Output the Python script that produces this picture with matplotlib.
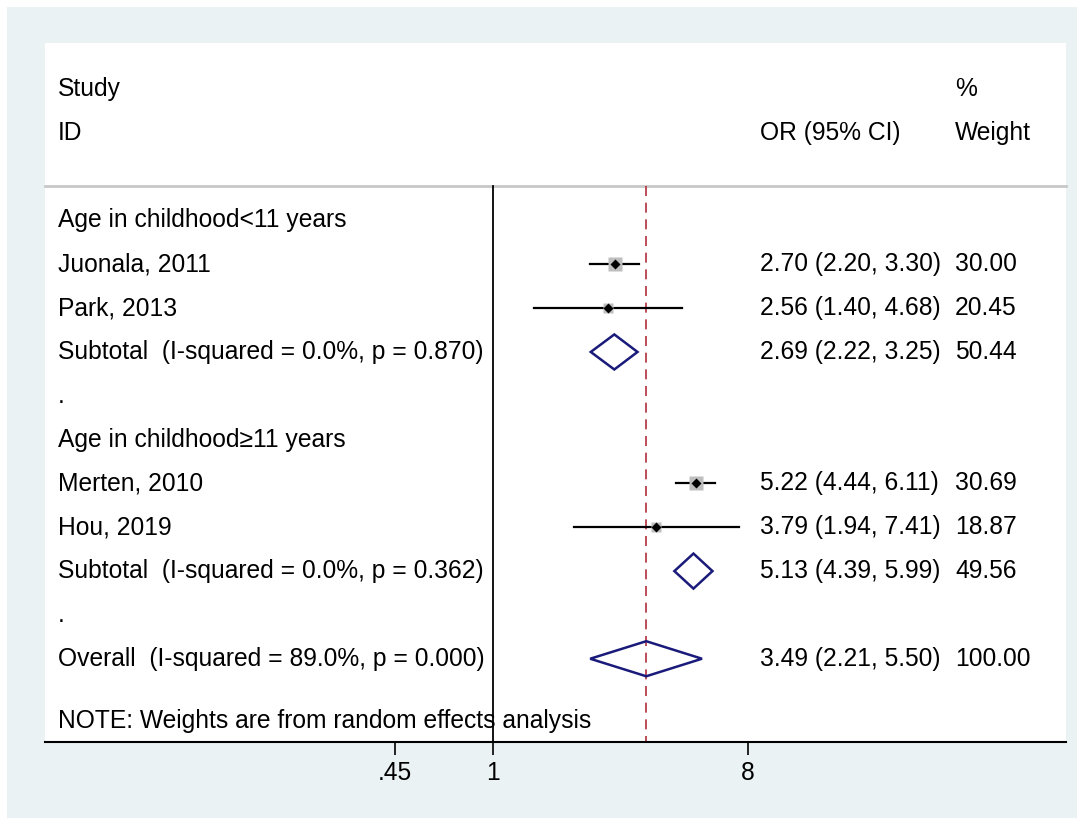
import numpy as np
import matplotlib
matplotlib.use('Agg')
import matplotlib.pyplot as plt
from matplotlib.patches import Rectangle, Polygon
import matplotlib.transforms as mtransforms

# ---------------------------------------------------------------
# data
# ---------------------------------------------------------------
labels = ['Age in childhood<11 years', 'Juonala, 2011', 'Park, 2013',
          'Subtotal  (I-squared = 0.0%, p = 0.870)', '.',
          'Age in childhood\u226511 years', 'Merten, 2010', 'Hou, 2019',
          'Subtotal  (I-squared = 0.0%, p = 0.362)', '.',
          'Overall  (I-squared = 89.0%, p = 0.000)']
# row kind: h = heading, s = study, d = pooled diamond, b = blank
kinds = ['h', 's', 's', 'd', 'b', 'h', 's', 's', 'd', 'b', 'd']
or_est = [None, 2.70, 2.56, 2.69, None, None, 5.22, 3.79, 5.13, None, 3.49]
ci_low = [None, 2.20, 1.40, 2.22, None, None, 4.44, 1.94, 4.39, None, 2.21]
ci_high = [None, 3.30, 4.68, 3.25, None, None, 6.11, 7.41, 5.99, None, 5.50]
weights = [None, 30.00, 20.45, 50.44, None, None, 30.69, 18.87, 49.56, None, 100.00]

tick_vals = [0.45, 1, 8]
tick_labels = ['.45', '1', '8']

overall = 3.49

# ---------------------------------------------------------------
# figure
# ---------------------------------------------------------------
plt.rcParams['font.family'] = ['Liberation Sans', 'DejaVu Sans']
FS = 17.7

fig = plt.figure(figsize=(10.84, 8.25), dpi=100)
fig.patch.set_facecolor('white')
# stata graph region
fig.patches.append(Rectangle((7 / 1084, 7 / 825), 1070 / 1084, 811 / 825,
                             transform=fig.transFigure, facecolor='#EAF2F3',
                             edgecolor='none', zorder=-5))

ax = fig.add_axes([45 / 1084, 83 / 825, 1021 / 1084, 699 / 825])
ax.set_zorder(1)
ax.set_facecolor('white')
ax.set_xscale('log')
x_left = np.exp((45 - 493) / 122.6)
x_right = np.exp((1066 - 493) / 122.6)
ax.set_xlim(x_left, x_right)
ax.set_ylim(14.9, -1.05)

for s in ['top', 'right', 'left']:
    ax.spines[s].set_visible(False)
ax.spines['bottom'].set_linewidth(1.5)
ax.set_yticks([])
ax.set_xticks(tick_vals)
ax.set_xticklabels(tick_labels, fontsize=FS)
ax.xaxis.set_minor_locator(matplotlib.ticker.NullLocator())
ax.tick_params(axis='x', length=9, width=1.2, pad=5)

tr = mtransforms.blended_transform_factory(ax.transAxes, ax.transData)
x_lab = (58 - 45) / 1021
x_or = (760 - 45) / 1021
x_wt = (955 - 45) / 1021

# header
ax.text(x_lab, 0, 'Study', transform=tr, fontsize=FS, va='center')
ax.text(x_lab, 1, 'ID', transform=tr, fontsize=FS, va='center')
ax.text(x_wt, 0, '%', transform=tr, fontsize=FS, va='center')
ax.text(x_or, 1, 'OR (95% CI)', transform=tr, fontsize=FS, va='center')
ax.text(x_wt, 1, 'Weight', transform=tr, fontsize=FS, va='center')
ax.plot([0, 1], [2.21, 2.21], transform=tr, color='#C8C8C8', lw=2, clip_on=False)

# reference lines
ax.plot([1, 1], [2.21, 14.9], color='black', lw=1.3, zorder=2)
ax.plot([overall, overall], [2.21, 14.9], color='#B0303C', lw=1.2,
        dashes=(6, 4), zorder=2)

for i, (lab, k) in enumerate(zip(labels, kinds)):
    y = i + 3
    ax.text(x_lab, y, lab, transform=tr, fontsize=FS, va='center')
    if k == 's':
        side = 2.4 * np.sqrt(weights[i]) * 0.72
        ax.plot([ci_low[i], ci_high[i]], [y, y], color='black', lw=1.6, zorder=3)
        ax.plot(or_est[i], y, marker='s', ms=side, color='#BEBEBE', mec='none', zorder=3)
        ax.plot(or_est[i], y, marker='D', ms=5.2, color='black', mec='none', zorder=4)
    if k == 'd':
        ax.add_patch(Polygon([[ci_low[i], y], [or_est[i], y - 0.4],
                              [ci_high[i], y], [or_est[i], y + 0.4]],
                             closed=True, facecolor='none', edgecolor='#1A1A7A',
                             lw=1.8, zorder=4))
    if or_est[i] is not None:
        ax.text(x_or, y, '%.2f (%.2f, %.2f)' % (or_est[i], ci_low[i], ci_high[i]),
                transform=tr, fontsize=FS, va='center')
        ax.text(x_wt, y, '%.2f' % weights[i], transform=tr, fontsize=FS, va='center')

ax.text(x_lab, 14.43, 'NOTE: Weights are from random effects analysis',
        transform=tr, fontsize=FS, va='center', zorder=1)

fig.savefig('out.png', dpi=100)
